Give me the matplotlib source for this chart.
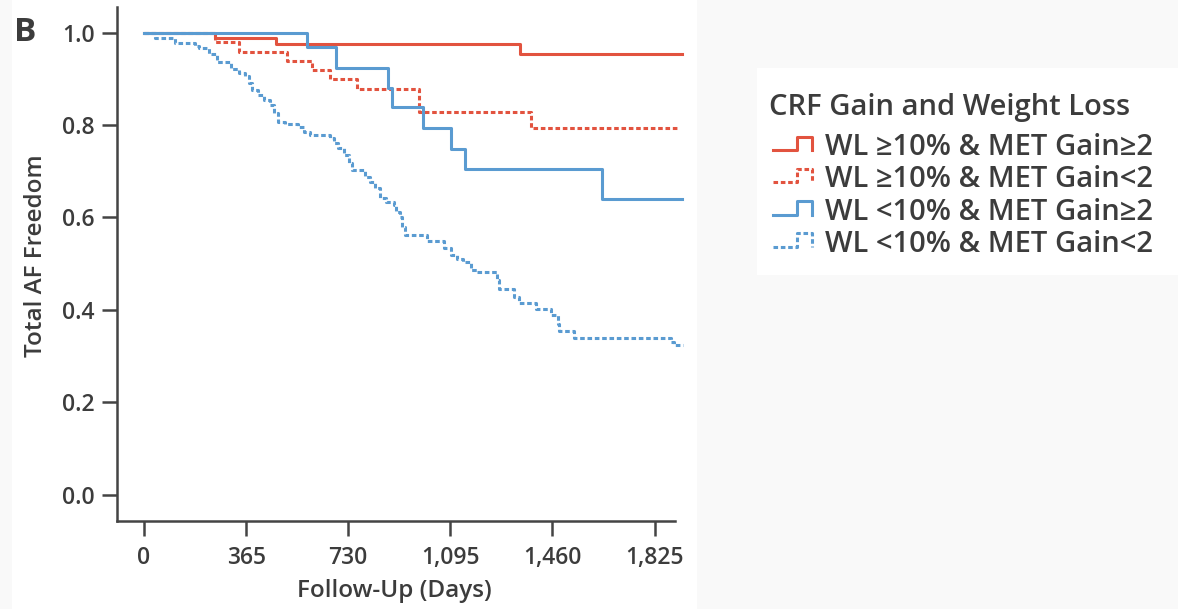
import matplotlib
matplotlib.use('Agg')
import matplotlib.pyplot as plt
from matplotlib.lines import Line2D
from matplotlib.patches import Rectangle

red_color = '#E2533F'
blue_color = '#5A9BD1'
text_color = '#3c3c3c'

# Kaplan-Meier style step data (days, survival)
red_solid_days = [0, 254, 472, 1344, 1922]
red_solid_surv = [1.0, 0.989, 0.976, 0.953, 0.953]

red_dash_days = [0, 254, 340, 512, 600, 665, 763, 984, 1384, 1905]
red_dash_surv = [1.0, 0.980, 0.959, 0.939, 0.918, 0.899, 0.877, 0.828, 0.793, 0.793]

blue_solid_days = [0, 582, 685, 873, 888, 996, 1098, 1148, 1636, 1922]
blue_solid_surv = [1.0, 0.969, 0.924, 0.879, 0.838, 0.793, 0.748, 0.705, 0.640, 0.640]

blue_dot_days = [0, 39, 111, 182, 197, 232, 261, 311, 340, 361, 375, 386, 408, 429, 450,
                 465, 479, 504, 551, 572, 593, 665, 679, 694, 715, 733, 744, 790, 808,
                 826, 844, 865, 894, 901, 915, 922, 933, 1012, 1072, 1098, 1119, 1140,
                 1169, 1190, 1262, 1269, 1323, 1341, 1401, 1455, 1480, 1484, 1537, 1884,
                 1895, 1927]
blue_dot_surv = [1.0, 0.988, 0.978, 0.970, 0.966, 0.953, 0.937, 0.922, 0.912, 0.905, 0.890,
                 0.876, 0.865, 0.854, 0.843, 0.825, 0.807, 0.802, 0.796, 0.785, 0.778,
                 0.771, 0.760, 0.750, 0.735, 0.717, 0.703, 0.688, 0.677, 0.663, 0.641,
                 0.634, 0.627, 0.612, 0.601, 0.580, 0.562, 0.549, 0.533, 0.518, 0.510,
                 0.503, 0.486, 0.481, 0.464, 0.445, 0.428, 0.414, 0.401, 0.388, 0.370,
                 0.354, 0.340, 0.330, 0.323, 0.323]

x_ticks = [0, 365, 730, 1095, 1460, 1825]
x_tick_labels = ['0', '365', '730', '1,095', '1,460', '1,825']
y_ticks = [0.0, 0.2, 0.4, 0.6, 0.8, 1.0]
y_tick_labels = ['0.0', '0.2', '0.4', '0.6', '0.8', '1.0']

legend_title = 'CRF Gain and Weight Loss'
series_labels = ['WL \u226510% & MET Gain\u22652', 'WL \u226510% & MET Gain<2',
                 'WL <10% & MET Gain\u22652', 'WL <10% & MET Gain<2']
series_colors = [red_color, red_color, blue_color, blue_color]
series_dashed = [False, True, False, True]

W, H = 1178, 609
LW = 2.2
DASH = (0, (1.5, 0.9))


def fx(px):
    return px / W


def fy(py):
    return 1 - py / H


plt.rcParams['font.family'] = ['Open Sans', 'DejaVu Sans']
plt.rcParams['font.weight'] = 'semibold'
plt.rcParams['axes.labelweight'] = 'semibold'
plt.rcParams['text.color'] = text_color

fig = plt.figure(figsize=(W / 100, H / 100), dpi=100)
fig.patch.set_facecolor('#f9f9f9')
fig.add_artist(Rectangle((fx(12), 0), fx(697 - 12), 1, transform=fig.transFigure,
                         facecolor='white', edgecolor='none', zorder=0))
fig.add_artist(Rectangle((fx(757), fy(275)), fx(W - 757), (275 - 68) / H,
                         transform=fig.transFigure, facecolor='white', edgecolor='none', zorder=0))

ax = fig.add_axes([fx(117), fy(521), fx(675 - 117), (521 - 6.7) / H])
ax.set_facecolor('none')

ax.step(red_solid_days, red_solid_surv, where='post', color=red_color, lw=LW, clip_on=False)
ax.step(red_dash_days, red_dash_surv, where='post', color=red_color, lw=LW, linestyle=DASH, clip_on=False)
ax.step(blue_solid_days, blue_solid_surv, where='post', color=blue_color, lw=LW, clip_on=False)
ax.step(blue_dot_days, blue_dot_surv, where='post', color=blue_color, lw=LW, linestyle=DASH, clip_on=False)

ax.set_xlim(-96.5, 1898)
ax.set_ylim(-0.057, 1.056)
ax.set_xticks(x_ticks)
ax.set_xticklabels(x_tick_labels)
ax.set_yticks(y_ticks)
ax.set_yticklabels(y_tick_labels)

for side in ['top', 'right']:
    ax.spines[side].set_visible(False)
for side in ['left', 'bottom']:
    ax.spines[side].set_linewidth(1.8)
    ax.spines[side].set_color('#444444')

ax.tick_params(axis='both', length=11, width=1.8, color='#444444', labelsize=16.5, labelcolor=text_color)
ax.tick_params(axis='y', pad=5)
ax.tick_params(axis='x', pad=7)

ax.set_xlabel('Follow-Up (Days)', fontsize=17.5, color=text_color)
ax.set_ylabel('Total AF Freedom', fontsize=17.5, color=text_color)
ax.xaxis.set_label_coords(0.497, -0.112)
ax.yaxis.set_label_coords(-0.124, 0.515)

fig.text(fx(14), fy(41), 'B', fontsize=24, fontweight='bold', color=text_color, va='baseline', ha='left')

# legend drawn by hand: step-shaped icons next to each label
fig.text(fx(769), fy(115), legend_title, fontsize=21, color=text_color, va='baseline', ha='left')
row_gap = 32.3
for i, lab in enumerate(series_labels):
    base = 155 + i * row_gap
    ys = [base - 5, base - 5, base - 18.5, base - 18.5, base - 5]
    xs = [773, 797, 797, 812, 812]
    icon = Line2D([fx(v) for v in xs], [fy(v) for v in ys], transform=fig.transFigure,
                  color=series_colors[i], lw=LW, linestyle=DASH if series_dashed[i] else '-')
    fig.add_artist(icon)
    fig.text(fx(825), fy(base), lab, fontsize=21, color=text_color, va='baseline', ha='left')

fig.savefig('out.png', dpi=100, facecolor=fig.get_facecolor())
